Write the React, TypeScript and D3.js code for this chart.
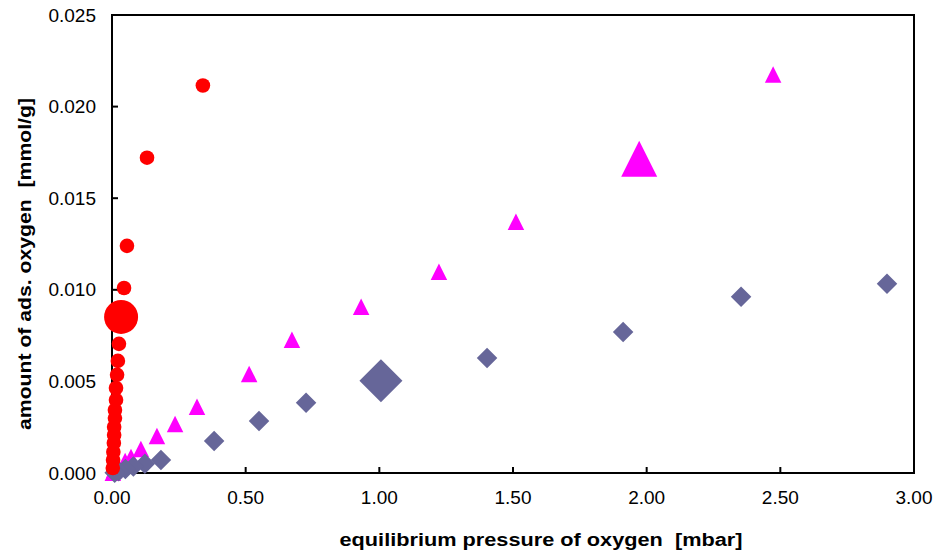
import React from 'react';
import * as d3 from 'd3';

// red circles (series 1)
const circleP = [0.34, 0.131, 0.056, 0.045, 0.034, 0.026, 0.022, 0.019, 0.015, 0.015, 0.011, 0.011, 0.008, 0.008, 0.007, 0.005, 0.004, 0.003];
const circleV = [0.02115, 0.01721, 0.0124, 0.0101, 0.00852, 0.00705, 0.00612, 0.00536, 0.00464, 0.00399, 0.00344, 0.003, 0.00251, 0.00208, 0.00164, 0.00115, 0.00071, 0.00027];
const circleBig = 4;

// magenta triangles (series 2)
const triP = [2.473, 1.972, 1.511, 1.223, 0.932, 0.673, 0.513, 0.318, 0.236, 0.168, 0.108, 0.071, 0.049, 0.022, 0.008, 0.003];
const triV = [0.02175, 0.01716, 0.01372, 0.01098, 0.00907, 0.00727, 0.00541, 0.00361, 0.00268, 0.00202, 0.00131, 0.00087, 0.00066, 0.0004, 0.00016, 0.00002];
const triBig = 1;

// slate diamonds (series 3)
const diaP = [2.899, 2.353, 1.912, 1.403, 1.006, 0.726, 0.55, 0.382, 0.183, 0.123, 0.08, 0.05, 0.025, 0.01];
const diaV = [0.01033, 0.00962, 0.0077, 0.00628, 0.00503, 0.00383, 0.00284, 0.00175, 0.00071, 0.0005, 0.00035, 0.00022, 0.0001, 0.00002];
const diaBig = 4;

const xTicks = [0, 0.5, 1, 1.5, 2, 2.5, 3];
const yTicks = [0, 0.005, 0.01, 0.015, 0.02, 0.025];

const font = "'Liberation Sans', Arial, sans-serif";

export default function App() {
  const left = 112, right = 914, top = 15, bottom = 473;
  const x = d3.scaleLinear().domain([0, 3]).range([left, right]);
  const y = d3.scaleLinear().domain([0, 0.025]).range([bottom, top]);

  const triPath = (w: number) => `M0,${-w / 2}L${w / 2},${w / 2}L${-w / 2},${w / 2}Z`;
  const diaPath = (w: number) => `M0,${-w / 2}L${w / 2},0L0,${w / 2}L${-w / 2},0Z`;

  return (
    <svg width={935} height={550} style={{ position: 'absolute', left: 0, top: 0 }} fontFamily={font}>
      <rect x={0} y={0} width={935} height={550} fill="white" />
      <rect x={left} y={top} width={right - left} height={bottom - top} fill="none" stroke="black" strokeWidth={2} />

      {yTicks.map(t => (
        <g key={'y' + t}>
          <line x1={left} x2={left + 6} y1={y(t)} y2={y(t)} stroke="black" strokeWidth={2} />
          <text x={left - 16} y={y(t)} dy="0.35em" textAnchor="end" fontSize={19}>{d3.format('.3f')(t)}</text>
        </g>
      ))}
      {xTicks.map(t => (
        <g key={'x' + t}>
          <line x1={x(t)} x2={x(t)} y1={bottom} y2={bottom - 6} stroke="black" strokeWidth={2} />
          <text x={x(t)} y={bottom + 31} textAnchor="middle" fontSize={19}>{d3.format('.2f')(t)}</text>
        </g>
      ))}

      {triP.map((p, i) => (
        <path key={'t' + i} d={triPath(i === triBig ? 36 : 16.5)} transform={`translate(${x(p)},${y(triV[i])})`} fill="#FF00FF" />
      ))}
      {diaP.map((p, i) => (
        <path key={'d' + i} d={diaPath(i === diaBig ? 43 : 20.5)} transform={`translate(${x(p)},${y(diaV[i])})`} fill="#666699" />
      ))}
      {circleP.map((p, i) => (
        <circle key={'c' + i} cx={x(p)} cy={y(circleV[i])} r={i === circleBig ? 17 : 7.3} fill="#FF0000" />
      ))}

      <text x={541} y={546} textAnchor="middle" fontSize={18} fontWeight="bold" textLength={403} lengthAdjust="spacingAndGlyphs" style={{ whiteSpace: 'pre' }}>equilibrium pressure of oxygen  [mbar]</text>
      <text transform="translate(31,264) rotate(-90)" textAnchor="middle" fontSize={18} fontWeight="bold" textLength={332} lengthAdjust="spacingAndGlyphs" style={{ whiteSpace: 'pre' }}>amount of ads. oxygen  [mmol/g]</text>
    </svg>
  );
}
